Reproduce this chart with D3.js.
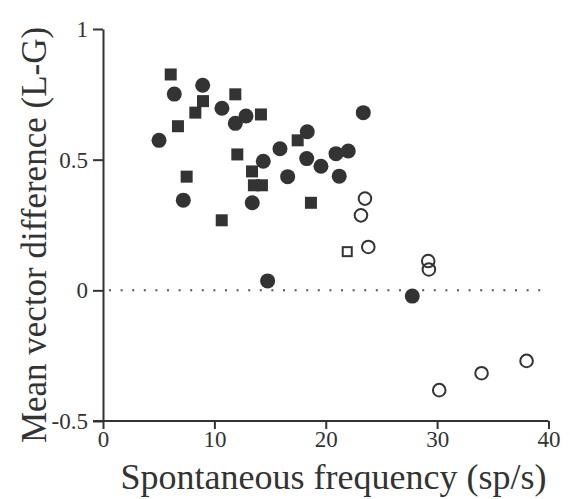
<!DOCTYPE html>
<html>
<head>
<meta charset="utf-8">
<script src="https://cdn.jsdelivr.net/npm/d3@7"></script>
<style>
  html, body { margin: 0; padding: 0; background: #fff; }
  svg text { font-family: "Liberation Serif", "Times New Roman", serif; fill: #333; }
</style>
</head>
<body>
<svg id="chart" width="570" height="499"></svg>
<script>
// Filled circles
const filledCircleX = [5.03, 6.40, 7.21, 8.95, 10.68, 11.88, 12.84, 13.40, 14.39, 14.78, 15.89, 16.58, 18.34, 18.29, 19.57, 20.92, 21.21, 22.02, 23.37, 27.77];
const filledCircleY = [0.574, 0.751, 0.345, 0.785, 0.697, 0.639, 0.667, 0.335, 0.494, 0.036, 0.542, 0.435, 0.607, 0.504, 0.475, 0.523, 0.437, 0.533, 0.680, -0.022];
// Filled squares
const filledSquareX = [6.08, 8.98, 8.29, 6.73, 11.88, 14.18, 12.06, 7.51, 17.48, 13.38, 13.55, 14.27, 18.67, 10.66];
const filledSquareY = [0.826, 0.724, 0.680, 0.628, 0.750, 0.673, 0.520, 0.435, 0.574, 0.455, 0.402, 0.402, 0.335, 0.268];
// Open circles
const openCircleX = [23.52, 23.16, 23.82, 29.20, 29.26, 30.19, 33.99, 38.03];
const openCircleY = [0.351, 0.287, 0.166, 0.112, 0.080, -0.382, -0.317, -0.270];
// Open squares
const openSquareX = [21.93];
const openSquareY = [0.148];

const xTicks = [0, 10, 20, 30, 40];
const yTicks = [-0.5, 0, 0.5, 1];
const xLabel = "Spontaneous frequency (sp/s)";
const yLabel = "Mean vector difference (L-G)";

const svg = d3.select("#chart");
const x = d3.scaleLinear().domain([0, 40]).range([103, 548.5]);
const y = d3.scaleLinear().domain([-0.5, 1]).range([421, 29]);
const ink = "#333";

// zero dotted line
svg.append("line")
  .attr("x1", x(0) + 6).attr("x2", x(40))
  .attr("y1", y(0)).attr("y2", y(0))
  .attr("stroke", "#555").attr("stroke-width", 2)
  .attr("stroke-dasharray", "2,9.6");

// axes
const xAxis = svg.append("g").attr("transform", `translate(0,${y(-0.5)})`)
  .call(d3.axisBottom(x).tickValues(xTicks).tickFormat(d3.format("d")).tickSize(8).tickSizeOuter(0).tickPadding(2));
const yAxis = svg.append("g").attr("transform", `translate(${x(0)},0)`)
  .call(d3.axisLeft(y).tickValues(yTicks).tickFormat(d => d === 0 || d === 1 ? d3.format("d")(d) : d3.format(".1f")(d).replace("−", "-")).tickSize(10).tickSizeOuter(0).tickPadding(5));

[xAxis, yAxis].forEach(g => {
  g.attr("font-size", null).attr("font-family", null);
  g.select(".domain").attr("stroke", ink).attr("stroke-width", 2);
  g.selectAll(".tick line").attr("stroke", ink).attr("stroke-width", 2);
  g.selectAll(".tick text")
    .style("font-size", "23px")
    .style("font-family", '"Liberation Serif", serif')
    .style("fill", ink);
});
// extend x axis line left to the -0.5 tick
xAxis.select(".domain").attr("d", `M${x(0) - 10},0H${x(40)}`);

// axis titles
svg.append("text")
  .attr("x", 333.5).attr("y", 489)
  .attr("text-anchor", "middle").style("font-size", "36px")
  .text(xLabel);
svg.append("text")
  .attr("transform", `translate(46,235) rotate(-90)`)
  .attr("text-anchor", "middle").style("font-size", "35px")
  .text(yLabel);

const zip = (a, b) => a.map((v, i) => [v, b[i]]);

// filled squares
svg.append("g").selectAll("rect").data(zip(filledSquareX, filledSquareY)).join("rect")
  .attr("x", d => x(d[0]) - 6).attr("y", d => y(d[1]) - 6)
  .attr("width", 12).attr("height", 12).attr("fill", ink);
// filled circles
svg.append("g").selectAll("circle").data(zip(filledCircleX, filledCircleY)).join("circle")
  .attr("cx", d => x(d[0])).attr("cy", d => y(d[1])).attr("r", 7.5).attr("fill", ink);
// open circles
svg.append("g").selectAll("circle").data(zip(openCircleX, openCircleY)).join("circle")
  .attr("cx", d => x(d[0])).attr("cy", d => y(d[1])).attr("r", 6.3)
  .attr("fill", "none").attr("stroke", ink).attr("stroke-width", 2);
// open squares
svg.append("g").selectAll("rect").data(zip(openSquareX, openSquareY)).join("rect")
  .attr("x", d => x(d[0]) - 4.5).attr("y", d => y(d[1]) - 4.5)
  .attr("width", 9).attr("height", 9)
  .attr("fill", "none").attr("stroke", ink).attr("stroke-width", 2);
</script>
</body>
</html>
